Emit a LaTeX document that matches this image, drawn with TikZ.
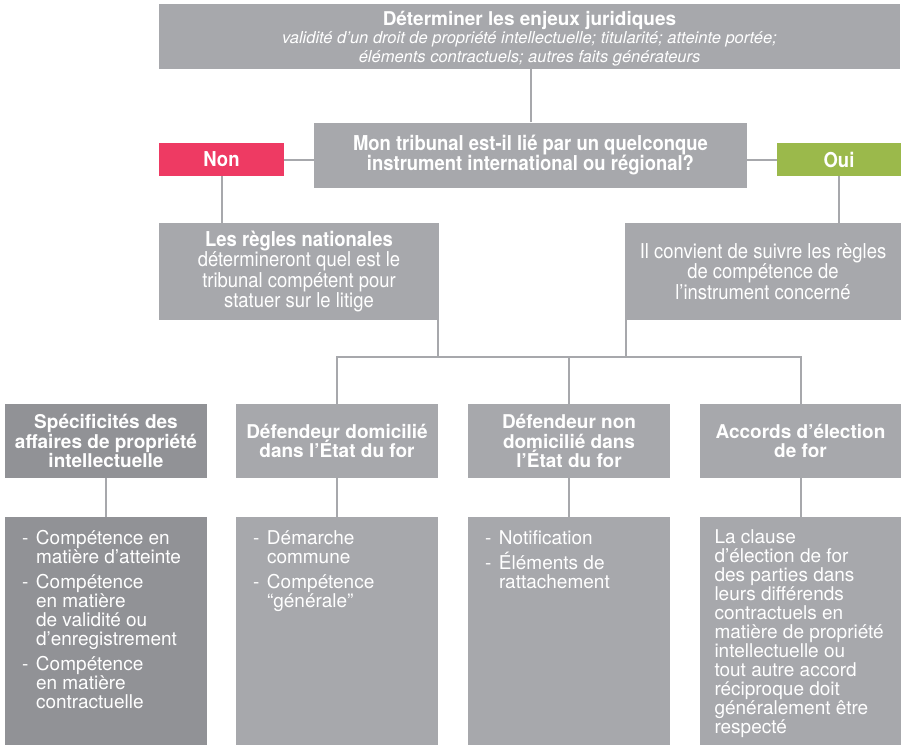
\documentclass[tikz,border=0pt]{standalone}
\usepackage{fontspec}
\setmainfont{TeX Gyre Heros}
\newfontfamily\cond[FakeStretch=0.9]{TeX Gyre Heros}
\usetikzlibrary{calc}
\definecolor{boxgrey}{HTML}{A7A8AC}
\definecolor{darkgrey}{HTML}{919296}
\definecolor{nonred}{HTML}{EE3A63}
\definecolor{ouigreen}{HTML}{9BB94B}
\definecolor{linegrey}{HTML}{A7A8AC}
\begin{document}
\begin{tikzpicture}[x=1pt,y=-1pt,
  box/.style={rectangle, fill=boxgrey, inner sep=0pt, text=white, align=center},
  darkbox/.style={box, fill=darkgrey},
  conn/.style={draw=linegrey, line width=2pt},
  headfont/.style={font=\bfseries\fontsize{19}{19.5}\selectfont},
  condbold/.style={font=\cond\bfseries\fontsize{20.5}{19.5}\selectfont},
  condreg/.style={font=\cond\fontsize{20.5}{19}\selectfont},
  listtext/.style={inner sep=0pt, text=white, align=left, anchor=north west, font=\fontsize{19}{19}\selectfont},
  lvlthree/.style={minimum width=202pt, minimum height=74pt},
  lvlfour/.style={minimum width=202pt, minimum height=228pt}
]
\useasboundingbox (0,0) rectangle (901,745);

% top
\node[box, minimum width=741pt, minimum height=65pt] (top) at (529.5,36.5) {};
\node[inner sep=0pt, text=white, align=center, font=\fontsize{16.5}{18.5}\selectfont] (toptext) at (529.5,38.5)
  {{\bfseries\fontsize{19}{18.5}\selectfont Déterminer les enjeux juridiques}\\
   {\itshape validité d’un droit de propriété intellectuelle; titularité; atteinte portée;}\\
   {\itshape éléments contractuels; autres faits générateurs}};

% question
\node[box, minimum width=433pt, minimum height=65pt, condbold] (q) at (530.5,155)
  {Mon tribunal est-il lié par un quelconque\\instrument international ou régional?};

\node[box, fill=nonred, minimum width=125pt, minimum height=33pt, condbold] (non) at (221.5,159.5) {Non};
\node[box, fill=ouigreen, minimum width=124pt, minimum height=33pt, condbold] (oui) at (839,159.5) {Oui};

% level 2
\node[box, minimum width=280pt, minimum height=97pt, condreg] (nat) at (299,271.5)
  {{\bfseries Les règles nationales}\\détermineront quel est le\\tribunal compétent pour\\statuer sur le litige};
\node[box, minimum width=276pt, minimum height=97pt, condreg] (instr) at (763,271.5)
  {Il convient de suivre les règles\\de compétence de\\l’instrument concerné};

% level 3
\node[darkbox, lvlthree, headfont] (b1) at (106,441) {Spécificités des\\affaires de propriété\\intellectuelle};
\node[box, lvlthree, headfont] (b2) at (337,441) {Défendeur domicilié\\dans l’État du for};
\node[box, lvlthree, headfont] (b3) at (569,441) {Défendeur non\\domicilié dans\\l’État du for};
\node[box, lvlthree, headfont] (b4) at (800.5,441) {Accords d’élection\\de for};

% level 4
\node[darkbox, lvlfour] (c1) at (106,631) {};
\node[box, lvlfour] (c2) at (337,631) {};
\node[box, lvlfour] (c3) at (569,631) {};
\node[box, lvlfour] (c4) at (800.5,631) {};

\node[listtext] (t1) at ($(c1.north west)+(17,13.5)$)
  {\makebox[14pt][l]{-}Compétence en\\
   \hspace*{14pt}matière d’atteinte\\[6pt]
   \makebox[14pt][l]{-}Compétence\\
   \hspace*{14pt}en matière\\
   \hspace*{14pt}de validité ou\\
   \hspace*{14pt}d’enregistrement\\[6pt]
   \makebox[14pt][l]{-}Compétence\\
   \hspace*{14pt}en matière\\
   \hspace*{14pt}contractuelle};
\node[listtext] (t2) at ($(c2.north west)+(17,13.5)$)
  {\makebox[14pt][l]{-}Démarche\\
   \hspace*{14pt}commune\\[6pt]
   \makebox[14pt][l]{-}Compétence\\
   \hspace*{14pt}“générale”};
\node[listtext] (t3) at ($(c3.north west)+(17,13.5)$)
  {\makebox[14pt][l]{-}Notification\\[6pt]
   \makebox[14pt][l]{-}Éléments de\\
   \hspace*{14pt}rattachement};
\node[listtext] (t4) at ($(c4.north west)+(15,13)$)
  {La clause\\d’élection de for\\des parties dans\\leurs différends\\contractuels en\\matière de propriété\\intellectuelle ou\\tout autre accord\\réciproque doit\\généralement être\\respecté};

% connectors
\coordinate (bus) at (0,357);
\coordinate (natout) at ($(nat.south east)+(-1,0)$);
\coordinate (instrout) at ($(instr.south west)+(1,0)$);
\draw[conn] (q.north) -- (q.north |- top.south);
\draw[conn] (non.east) -- (non.east -| q.west);
\draw[conn] (oui.west) -- (oui.west -| q.east);
\draw[conn] (non.south) -- (non.south |- nat.north);
\draw[conn] (oui.south) -- (oui.south |- instr.north);
\draw[conn] (natout) -- (natout |- bus);
\draw[conn] (instrout) -- (instrout |- bus);
\draw[conn] (b2.north) -- (b2.north |- bus) -- (b4.north |- bus) -- (b4.north);
\draw[conn] (b3.north) -- (b3.north |- bus);
\draw[conn] (b1.south) -- (c1.north);
\draw[conn] (b2.south) -- (c2.north);
\draw[conn] (b3.south) -- (c3.north);
\draw[conn] (b4.south) -- (c4.north);
\end{tikzpicture}
\end{document}
